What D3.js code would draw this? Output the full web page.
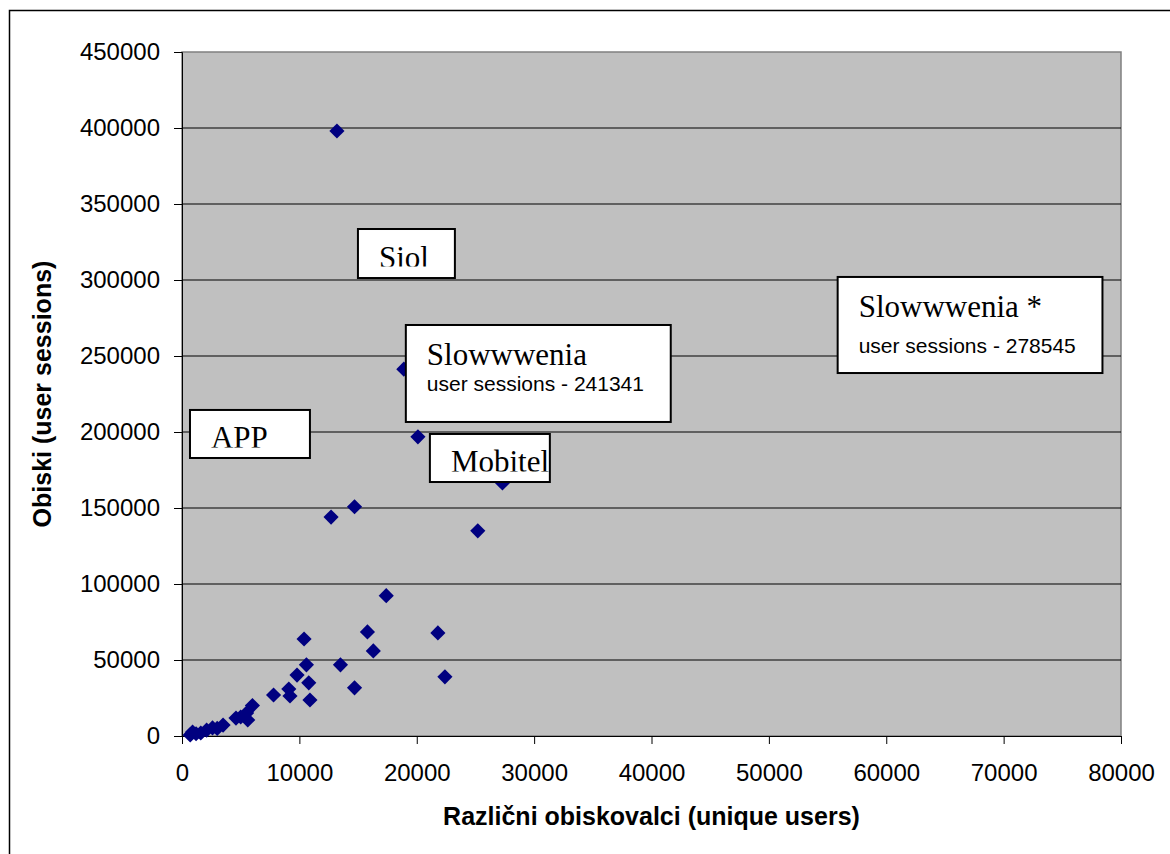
<!DOCTYPE html>
<html>
<head>
<meta charset="utf-8">
<script src="https://cdn.jsdelivr.net/npm/d3@7"></script>
<style>
  body { margin: 0; background: #fff; }
  .tick text { font-family: "Liberation Sans", Arial, sans-serif; font-size: 24px; fill: #000; }
  .axisTitle { font-family: "Liberation Sans", Arial, sans-serif; font-size: 25px; font-weight: bold; }
  .boxTitle { font-family: "Liberation Serif", "Times New Roman", serif; font-size: 31px; }
  .boxSub { font-family: "Liberation Sans", Arial, sans-serif; font-size: 21px; }
</style>
</head>
<body>
<div class="chart"></div>
<script>
// unique users (x) and user sessions (y)
var users = [13200, 18900, 20100, 27300, 12700, 14700, 25200, 17400, 10400, 15800,
             21800, 16300, 13500, 10600, 9800, 10800, 22400, 14700, 9100, 9200,
             7800, 10900, 6000, 5500, 5600, 5000, 4600, 3500, 2600, 2100,
             1600, 900, 700, 1200, 3000];
var sessions = [398000, 241341, 196800, 166500, 144000, 150800, 135000, 92300, 63800, 68500,
                67800, 56000, 46800, 46800, 40100, 35000, 38900, 31700, 30900, 26300,
                27000, 23700, 20000, 15100, 10500, 12500, 11800, 7200, 5300, 3900,
                2000, 2600, 700, 1500, 5000];

var xTicks = [0, 10000, 20000, 30000, 40000, 50000, 60000, 70000, 80000];
var yTicks = [0, 50000, 100000, 150000, 200000, 250000, 300000, 350000, 400000, 450000];

// callout boxes, corners in data units
var boxTitles = ["Siol", "APP", "Mobitel", "Slowwwenia", "Slowwwenia *"];
var boxSubs = ["", "", "", "user sessions - 241341", "user sessions - 278545"];
var boxX0 = [14990, 680, 21120, 19070, 55860];
var boxX1 = [23250, 10900, 31340, 41640, 78420];
var boxY0 = [333550, 214500, 198700, 270400, 302000];
var boxY1 = [301300, 182900, 167100, 206600, 238800];

var svgWidth = 1170;
var svgHeight = 854;
var margin = { top: 52, right: 49, bottom: 118, left: 182 };
var width = svgWidth - margin.left - margin.right;
var height = svgHeight - margin.top - margin.bottom;

var svg = d3.select(".chart")
            .append("svg")
            .attr("width", svgWidth)
            .attr("height", svgHeight);

// outer frame
svg.append("rect")
   .attr("x", 9.5)
   .attr("y", 10.5)
   .attr("width", svgWidth)
   .attr("height", svgHeight)
   .attr("fill", "none")
   .attr("stroke", "#000")
   .attr("stroke-width", 1.5);

var chartGroup = svg.append("g")
                    .attr("transform", `translate(${margin.left}, ${margin.top})`);

// Step 1: scales
var xLinearScale = d3.scaleLinear().domain([0, 80000]).range([0, width]);
var yLinearScale = d3.scaleLinear().domain([0, 450000]).range([height, 0]);

// Step 2: plot area + gridlines
chartGroup.append("rect")
          .attr("width", width)
          .attr("height", height)
          .attr("fill", "#c0c0c0")
          .attr("stroke", "#808080")
          .attr("stroke-width", 1.5);

chartGroup.selectAll(".grid")
          .data(yTicks.filter(d => d > 0 && d < 450000))
          .enter()
          .append("line")
          .attr("class", "grid")
          .attr("x1", 0)
          .attr("x2", width)
          .attr("y1", d => yLinearScale(d))
          .attr("y2", d => yLinearScale(d))
          .attr("stroke", "#000")
          .attr("stroke-width", 1);

// Step 3: axes
var bottomAxis = d3.axisBottom(xLinearScale).tickValues(xTicks).tickSize(8).tickPadding(20).tickFormat(d3.format("d"));
var leftAxis = d3.axisLeft(yLinearScale).tickValues(yTicks).tickSize(8).tickPadding(14).tickFormat(d3.format("d"));

chartGroup.append("g")
          .attr("transform", `translate(0, ${height})`)
          .call(bottomAxis)
          .call(g => g.selectAll("line, path").attr("stroke", "#000"));

chartGroup.append("g")
          .call(leftAxis)
          .call(g => g.selectAll("line, path").attr("stroke", "#000"));

// Step 4: diamonds
var diamond = d3.symbol().type(d3.symbolSquare).size(115);
chartGroup.selectAll(".pt")
          .data(users)
          .enter()
          .append("path")
          .attr("class", "pt")
          .attr("d", diamond)
          .attr("transform", (d, i) => `translate(${xLinearScale(d)}, ${yLinearScale(sessions[i])}) rotate(45)`)
          .attr("fill", "#000080");

// Step 5: callout boxes
var defs = svg.append("defs");
boxTitles.forEach(function (t, i) {
  var bx = xLinearScale(boxX0[i]);
  var by = yLinearScale(boxY0[i]);
  var bw = xLinearScale(boxX1[i]) - bx;
  var bh = yLinearScale(boxY1[i]) - by;
  var g = chartGroup.append("g").attr("transform", `translate(${bx}, ${by})`);
  g.append("rect")
   .attr("width", bw)
   .attr("height", bh)
   .attr("fill", "#fff")
   .attr("stroke", "#000")
   .attr("stroke-width", 2);
  if (boxSubs[i] === "") {
    // single line labels are clipped by their text frame
    defs.append("clipPath").attr("id", "clip" + i)
        .append("rect").attr("x", 0).attr("y", 0).attr("width", bw).attr("height", 37.5);
    g.append("text")
     .attr("class", "boxTitle")
     .attr("clip-path", `url(#clip${i})`)
     .attr("x", 21)
     .attr("y", 38.5)
     .text(t);
  } else {
    var subY = i === 3 ? 66 : 76;
    g.append("text").attr("class", "boxTitle").attr("x", 21).attr("y", 40).text(t);
    g.append("text").attr("class", "boxSub").attr("x", 21).attr("y", subY).text(boxSubs[i]);
  }
});

// axis titles
chartGroup.append("text")
          .attr("class", "axisTitle")
          .attr("transform", "rotate(-90)")
          .attr("x", 0 - (height / 2))
          .attr("y", 51 - margin.left)
          .attr("text-anchor", "middle")
          .text("Obiski (user sessions)");

chartGroup.append("text")
          .attr("class", "axisTitle")
          .attr("x", width / 2)
          .attr("y", 825 - margin.top)
          .attr("text-anchor", "middle")
          .text("Različni obiskovalci (unique users)");
</script>
</body>
</html>
